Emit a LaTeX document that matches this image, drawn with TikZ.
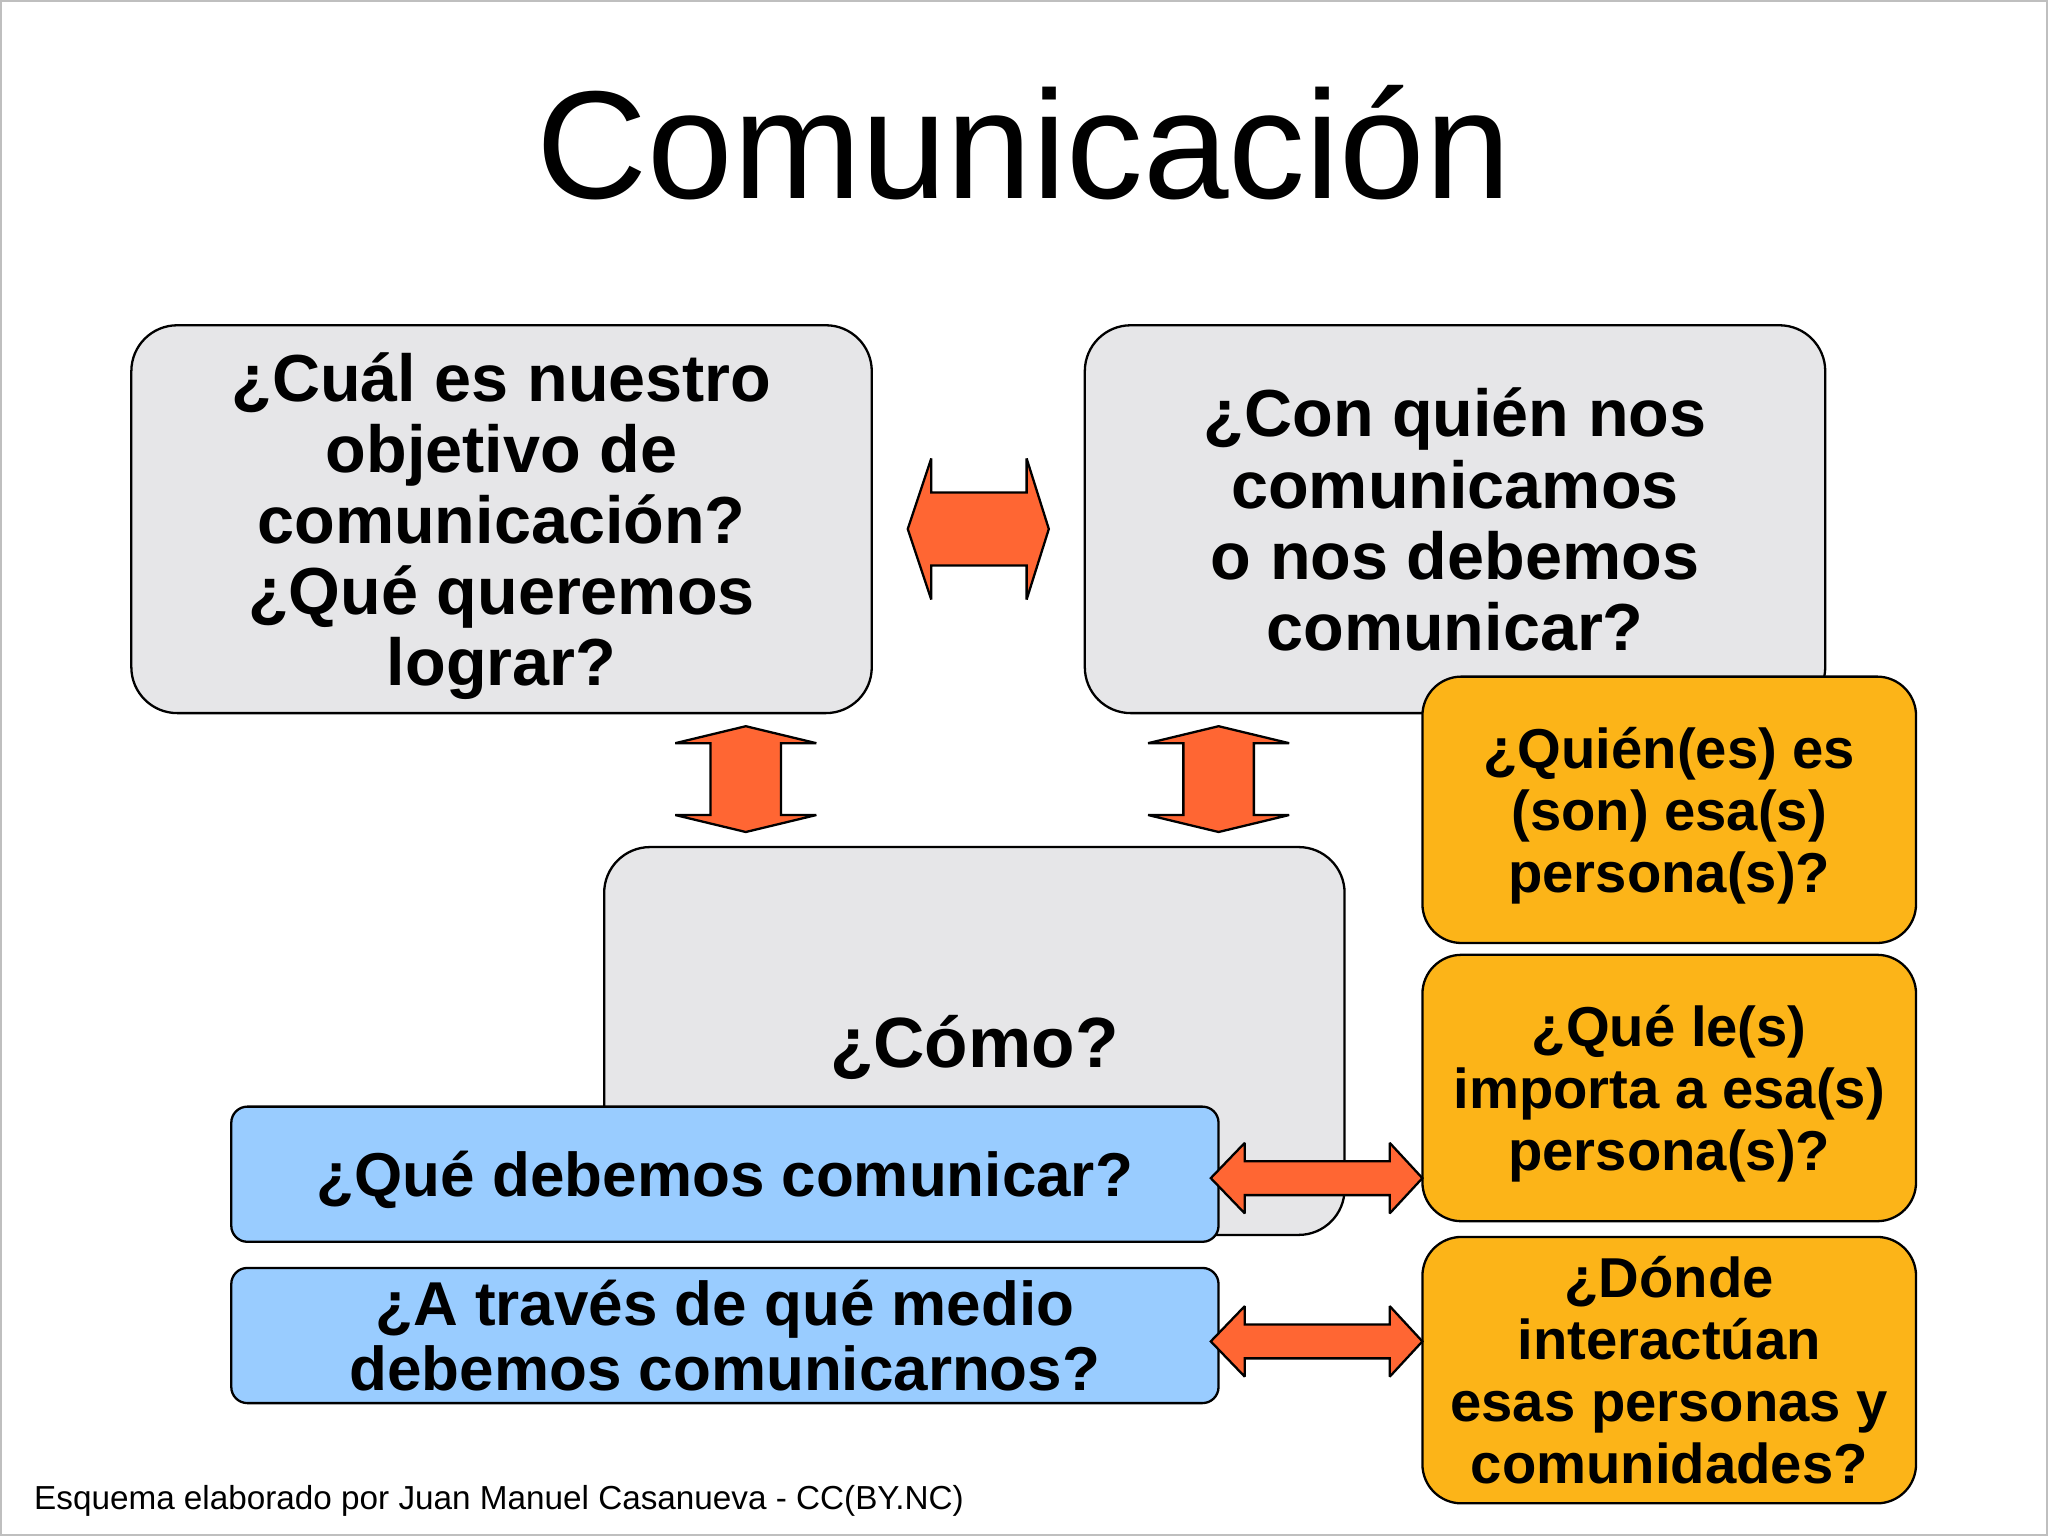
\documentclass[tikz,border=0pt]{standalone}
\usepackage{fontspec}
\setmainfont{Liberation Sans}
\definecolor{boxgray}{RGB}{230,230,232}
\definecolor{boxorange}{RGB}{252,180,24}
\definecolor{boxblue}{RGB}{153,204,255}
\definecolor{arroworange}{RGB}{255,102,51}
\begin{document}
\begin{tikzpicture}[x=0.02cm,y=-0.02cm,
    graybox/.style={draw,line width=1pt,fill=boxgray,rounded corners=20pt,
      minimum width=11.34cm,minimum height=5.94cm,align=center,text depth=0pt,
      font=\bfseries\fontsize{29}{31}\selectfont},
    orangebox/.style={draw,line width=1pt,fill=boxorange,rounded corners=17pt,
      minimum width=7.56cm,minimum height=4.08cm,align=center,text depth=0pt,
      font=\bfseries\fontsize{24.5}{27}\selectfont},
    bluebox/.style={draw,line width=1pt,fill=boxblue,rounded corners=7pt,
      minimum width=15.12cm,minimum height=2.07cm,align=center,text depth=0pt,
      font=\bfseries\fontsize{27}{28.5}\selectfont},
    twoway/.style={draw,line width=1pt,fill=arroworange,line join=miter,miter limit=2}]
  \useasboundingbox (0,0) rectangle (1568,1176);
  \draw[gray!50,line width=1pt] (1,1) rectangle (1567,1175);
  % title
  \node[anchor=base,font=\fontsize{67}{70}\selectfont] (title) at (784,152) {Comunicación};
  % questions
  \node[graybox] (objetivo) at (384,397.5)
    {¿Cuál es nuestro\\objetivo de\\comunicación?\\¿Qué queremos\\lograr?};
  \node[graybox] (quien) at (1114,397.5)
    {¿Con quién nos\\comunicamos\\o nos debemos\\comunicar?};
  \node[graybox,font=\bfseries\fontsize{31}{33}\selectfont] (como) at (746,797) {¿Cómo?};
  \node[orangebox] (personas) at (1278,620) {¿Quién(es) es\\(son) esa(s)\\persona(s)?};
  \node[orangebox] (importa) at (1278,833) {¿Qué le(s)\\importa a esa(s)\\persona(s)?};
  \node[orangebox] (donde) at (1278,1049)
    {¿Dónde\\interactúan\\esas personas y\\comunidades?};
  \node[bluebox] (que) at (555,899) {¿Qué debemos comunicar?};
  \node[bluebox] (medio) at (555,1022.5) {¿A través de qué medio\\debemos comunicarnos?};
  % arrows
  \draw[twoway] (695,405) -- (713,351) -- (713,377) -- (786,377) -- (786,351)
    -- (803,405) -- (786,459) -- (786,433) -- (713,433) -- (713,459) -- cycle;
  \draw[twoway] (571,556) -- (625,569) -- (598,569) -- (598,624) -- (625,624)
    -- (571,637) -- (517,624) -- (544,624) -- (544,569) -- (517,569) -- cycle;
  \draw[twoway] (933,556) -- (987,569) -- (960,569) -- (960,624) -- (987,624)
    -- (933,637) -- (879,624) -- (906,624) -- (906,569) -- (879,569) -- cycle;
  \draw[twoway] (927,902) -- (953,875) -- (953,889) -- (1064,889) -- (1064,875)
    -- (1089,902) -- (1064,929) -- (1064,915) -- (953,915) -- (953,929) -- cycle;
  \draw[twoway] (927,1027) -- (953,1000) -- (953,1014) -- (1064,1014) -- (1064,1000)
    -- (1089,1027) -- (1064,1054) -- (1064,1040) -- (953,1040) -- (953,1054) -- cycle;
  % credit
  \node[anchor=base west,font=\fontsize{14.5}{16}\selectfont] (credito) at (20,1156)
    {Esquema elaborado por Juan Manuel Casanueva - CC(BY.NC)};
\end{tikzpicture}
\end{document}
